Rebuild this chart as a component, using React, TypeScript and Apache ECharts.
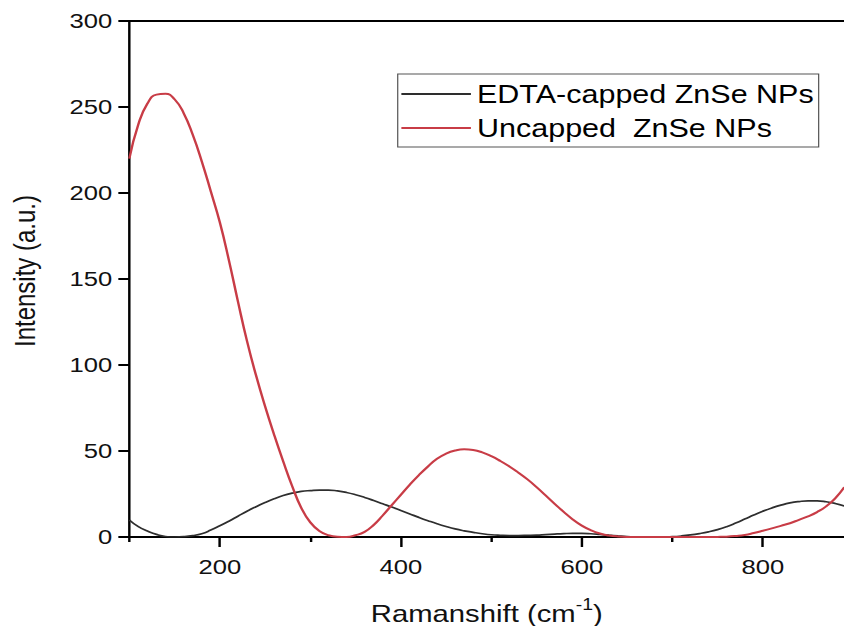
import React, { useEffect, useRef } from "react";
import * as echarts from "echarts";

// Raman shift positions (cm^-1)
const ramanShift: number[] = [
  100, 110, 120, 130, 140, 150, 160, 170, 180, 190,
  200, 210, 220, 230, 240, 250, 260, 270, 280, 290,
  300, 310, 320, 330, 340, 350, 360, 370, 380, 390,
  400, 410, 420, 430, 440, 450, 460, 470, 480, 490,
  500, 510, 520, 530, 540, 550, 560, 570, 580, 590,
  600, 610, 620, 630, 640, 650, 660, 670, 680, 690,
  700, 710, 720, 730, 740, 750, 760, 770, 780, 790,
  800, 810, 820, 830, 840, 850, 860, 870, 880, 890,
];

// EDTA-capped ZnSe NPs intensity (a.u.)
const edtaCapped: number[] = [
  9.9, 6, 3.5, 1.5, 0.3, 0, 0.2, 0.8, 1.9, 4,
  6.5, 9.2, 12.1, 15, 17.6, 20, 22.2, 24.1, 25.5, 26.5,
  27, 27.3, 27.3, 26.8, 25.9, 24.6, 23, 21.2, 19.3, 17.4,
  15.4, 13.4, 11.4, 9.5, 7.7, 6.1, 4.7, 3.6, 2.7, 1.9,
  1.3, 1, 0.85, 0.85, 0.95, 1.1, 1.4, 1.7, 1.95, 2.1,
  2.1, 1.9, 1.5, 1.05, 0.65, 0.3, 0.1, 0, 0, 0,
  0.2, 0.6, 1.2, 2, 3, 4.3, 6, 8.1, 10.4, 12.8,
  15, 16.9, 18.5, 19.8, 20.6, 21, 21, 20.5, 19.5, 18,
];

// Uncapped ZnSe NPs intensity (a.u.)
const uncapped: number[] = [
  220, 240, 252, 257.2, 257.7, 254.5, 246.5, 234, 218.5, 201,
  183, 161, 137, 114, 94, 76, 59.5, 44, 29.5, 17,
  8.5, 3.5, 1, 0.1, 0, 1, 3, 7, 12.5, 18.5,
  24.5, 30.5, 36, 41, 45.5, 48.5, 50.3, 51, 50.6, 49.2,
  47, 44.2, 41, 37.4, 33.5, 29, 24.2, 19.3, 14.6, 10.2,
  6.6, 3.9, 2, 0.9, 0.3, 0.05, 0, 0, 0, 0,
  0, 0, 0, 0, 0, 0.05, 0.2, 0.6, 1.2, 2.3,
  3.6, 5, 6.5, 8, 10, 12, 14.5, 17.8, 22.5, 29,
];

const seriesNames: string[] = ["EDTA-capped ZnSe NPs", "Uncapped  ZnSe NPs"];
const xMajorTicks: number[] = [200, 400, 600, 800];
const xMinorTicks: number[] = [100, 300, 500, 700];
const xMin = 100;
const xMax = 890;
const yMin = 0;
const yMax = 300;
const yInterval = 50;

const FONT = "'Liberation Sans', Arial, Helvetica, sans-serif";
const STRETCH = 1.22;
const LOCAL_W = 692;
const H = 626;
const BLACK_LINE = "#2e2e2e";
const RED_LINE = "#c83c46";

export default function App() {
  const ref = useRef<HTMLDivElement>(null);

  useEffect(() => {
    if (!ref.current) return;
    const chart = echarts.init(ref.current, undefined, { renderer: "svg" });
    const pairs = (ys: number[]) => ramanShift.map((x, i) => [x, ys[i]]);
    const gridRect = {
      left: 106,
      right: 0,
      top: 21,
      bottom: 89,
      containLabel: false,
      outerBoundsMode: "none",
    };

    chart.setOption({
      animation: false,
      backgroundColor: "#ffffff",
      textStyle: { fontFamily: FONT },
      grid: [{ ...gridRect }, { ...gridRect }],
      legend: {
        orient: "vertical",
        left: 326,
        top: 74,
        padding: [7, 4, 6, 3],
        icon: "rect",
        itemWidth: 57,
        itemHeight: 2,
        itemGap: 8,
        borderColor: "#555555",
        borderWidth: 1,
        backgroundColor: "#ffffff",
        textStyle: { fontSize: 25, lineHeight: 26, color: "#000000", fontFamily: FONT },
        data: seriesNames,
      },
      xAxis: [
        {
          type: "value",
          gridIndex: 0,
          position: "bottom",
          min: xMin,
          max: xMax,
          splitLine: { show: false },
          axisLine: { show: true, onZero: false, lineStyle: { color: "#000", width: 2 } },
          axisTick: {
            show: true,
            inside: false,
            length: 10,
            customValues: xMajorTicks,
            lineStyle: { color: "#000", width: 2 },
          },
          axisLabel: {
            customValues: xMajorTicks,
            fontSize: 21,
            color: "#111",
            margin: 19,
            fontFamily: FONT,
          },
          name: "Ramanshift (cm{sup|-1})",
          nameLocation: "middle",
          nameGap: 60,
          nameTextStyle: {
            fontSize: 24,
            lineHeight: 34,
            color: "#111",
            fontFamily: FONT,
            rich: {
              sup: {
                fontSize: 16,
                lineHeight: 16,
                verticalAlign: "top",
                color: "#111",
                fontFamily: FONT,
              },
            },
          },
        },
        {
          type: "value",
          gridIndex: 1,
          position: "bottom",
          min: xMin,
          max: xMax,
          splitLine: { show: false },
          axisLine: { show: false },
          axisTick: {
            show: true,
            inside: false,
            length: 5,
            customValues: xMinorTicks,
            lineStyle: { color: "#000", width: 2 },
          },
          axisLabel: { show: false },
        },
        {
          type: "value",
          gridIndex: 1,
          position: "top",
          min: xMin,
          max: xMax,
          splitLine: { show: false },
          axisLine: { show: true, onZero: false, lineStyle: { color: "#000", width: 2 } },
          axisTick: { show: false },
          axisLabel: { show: false },
        },
      ],
      yAxis: [
        {
          type: "value",
          gridIndex: 0,
          min: yMin,
          max: yMax,
          interval: yInterval,
          splitLine: { show: false },
          axisLine: { show: true, onZero: false, lineStyle: { color: "#000", width: 2 } },
          axisTick: { show: true, inside: false, length: 9, lineStyle: { color: "#000", width: 2 } },
          axisLabel: { fontSize: 21, color: "#111", margin: 14, fontFamily: FONT },
          name: "Intensity (a.u.)",
          nameLocation: "middle",
          nameGap: 73,
          nameTextStyle: { fontSize: 24, color: "#111", fontFamily: FONT, padding: [0, 0, 0, 16] },
        },
        {
          type: "value",
          gridIndex: 1,
          min: yMin,
          max: yMax,
          show: false,
        },
      ],
      series: [
        {
          name: seriesNames[0],
          type: "line",
          xAxisIndex: 0,
          yAxisIndex: 0,
          data: pairs(edtaCapped),
          symbol: "none",
          smooth: 0.5,
          lineStyle: { color: BLACK_LINE, width: 1.7 },
          itemStyle: { color: BLACK_LINE },
          z: 2,
        },
        {
          name: seriesNames[1],
          type: "line",
          xAxisIndex: 0,
          yAxisIndex: 0,
          data: pairs(uncapped),
          symbol: "none",
          smooth: 0.5,
          lineStyle: { color: RED_LINE, width: 2 },
          itemStyle: { color: RED_LINE },
          z: 3,
        },
      ],
    });

    return () => chart.dispose();
  }, []);

  return (
    <div
      style={{
        position: "absolute",
        left: 0,
        top: 0,
        width: LOCAL_W * STRETCH,
        height: H,
        overflow: "hidden",
        background: "#fff",
      }}
    >
      <div
        ref={ref}
        style={{
          width: LOCAL_W,
          height: H,
          transform: `scaleX(${STRETCH})`,
          transformOrigin: "0 0",
        }}
      />
    </div>
  );
}
